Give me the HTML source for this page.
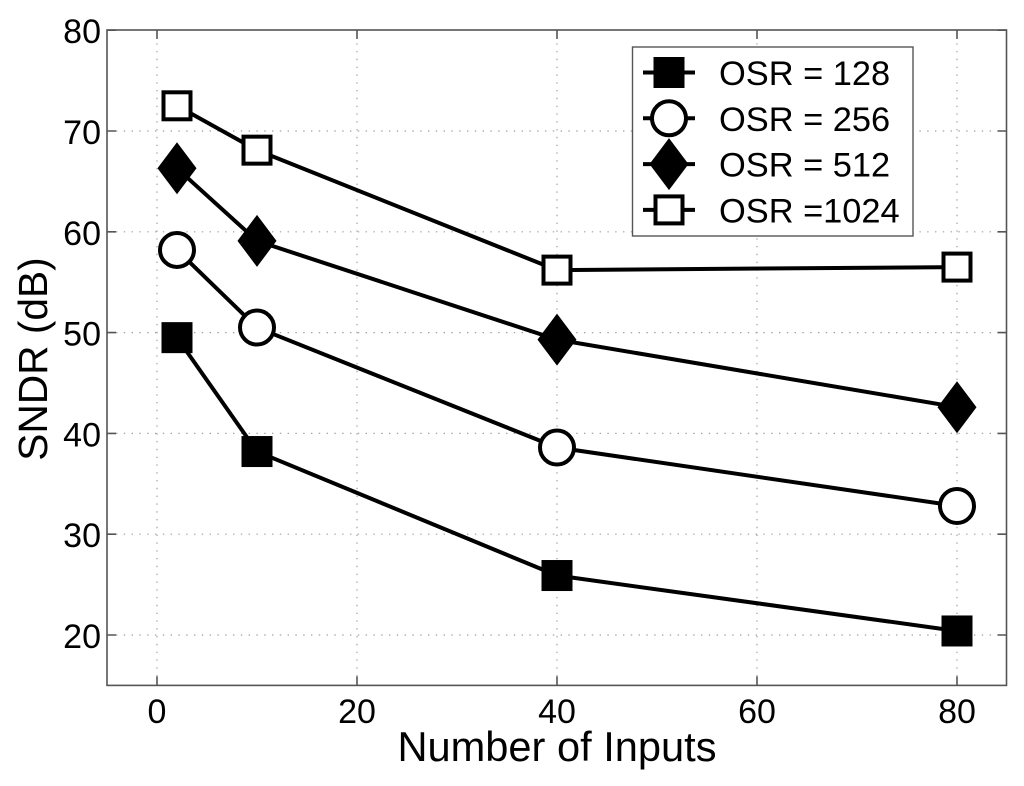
<!DOCTYPE html>
<html>
<head>
<meta charset="utf-8">
<title>SNDR vs Number of Inputs</title>
<style>
html,body{margin:0;padding:0;background:#fff;width:1024px;height:786px;overflow:hidden}
svg{display:block;font-family:"Liberation Sans",sans-serif}
text{fill:#000}
</style>
</head>
<body>
<svg id="chart" width="1024" height="786" viewBox="0 0 1024 786" xmlns="http://www.w3.org/2000/svg">
<rect x="0" y="0" width="1024" height="786" fill="#fff"/>
<text x="557" y="761" font-size="41.6" text-anchor="middle">Number of Inputs</text>
<text transform="translate(47,359) rotate(-90)" font-size="40.7" text-anchor="middle">SNDR (dB)</text>
</svg>
<script>
var inputs = [2, 10, 40, 80];
var osr128 = [49.5, 38.2, 25.9, 20.4];
var osr256 = [58.2, 50.5, 38.6, 32.8];
var osr512 = [66.3, 59.1, 49.3, 42.6];
var osr1024 = [72.5, 68.1, 56.2, 56.5];
var xTicks = [0, 20, 40, 60, 80];
var yTicks = [20, 30, 40, 50, 60, 70, 80];
var legendLabels = ["OSR = 128", "OSR = 256", "OSR = 512", "OSR =1024"];

var NS = "http://www.w3.org/2000/svg";
var svg = document.getElementById("chart");
var L = 107, R = 1007, T = 30, B = 685.4;
function sx(v) { return 157 + (v - 0) * 10; }
function sy(v) { return 635 - (v - 20) * 10.08; }
function mk(tag, attrs, parent) {
  var el = document.createElementNS(NS, tag);
  for (var k in attrs) el.setAttribute(k, attrs[k]);
  (parent || svg).appendChild(el);
  return el;
}

var gridGroup = mk("g", {});


xTicks.forEach(function (t) {
  var g = mk("line", { x1: sx(t), x2: sx(t), y1: B - 9, y2: T + 9, stroke: "#a0a0a0", "stroke-width": 1.2, "stroke-dasharray": "1.4 6.4" }, gridGroup);
  
  
});
yTicks.forEach(function (t) {
  if (t === 80) return;
  var g = mk("line", { x1: L + 9, x2: R - 9, y1: sy(t), y2: sy(t), stroke: "#a0a0a0", "stroke-width": 1.2, "stroke-dasharray": "1.4 6.4" }, gridGroup);
  
  
});

var frame = mk("rect", { x: L, y: T, width: R - L - 0.5, height: B - T, fill: "none", stroke: "#555", "stroke-width": 1.6 });



xTicks.forEach(function (t) {
  var a = mk("path", { d: "M" + sx(t) + " " + B + "V" + (B - 9) + "M" + sx(t) + " " + T + "V" + (T + 9), stroke: "#555", "stroke-width": 1.6, fill: "none" });
  
  
  var l = mk("text", { x: sx(t), y: 723, "font-size": 34, "text-anchor": "middle" });
  
  
  l.textContent = t;
});
yTicks.forEach(function (t) {
  var a = mk("path", { d: "M" + L + " " + sy(t) + "H" + (L + 9) + "M" + (R - 0.5) + " " + sy(t) + "H" + (R - 9.5), stroke: "#555", "stroke-width": 1.6, fill: "none" });
  
  
  var l = mk("text", { x: 101, y: sy(t) + 13, "font-size": 34, "text-anchor": "end" });
  
  
  l.textContent = t;
});

function marker(kind, cx, cy, parent) {
  if (kind === "filled-square") {
    return mk("rect", { x: cx - 15.5, y: cy - 15.5, width: 31, height: 31, fill: "#000" }, parent);
  }
  if (kind === "open-square") {
    return mk("rect", { x: cx - 13.5, y: cy - 13.5, width: 27, height: 27, fill: "#fff", stroke: "#000", "stroke-width": 4 }, parent);
  }
  if (kind === "circle") {
    return mk("circle", { cx: cx, cy: cy, r: 17, fill: "#fff", stroke: "#000", "stroke-width": 4 }, parent);
  }
  return mk("polygon", { points: [cx, cy - 26, cx + 19.5, cy, cx, cy + 26, cx - 19.5, cy].join(" "), fill: "#000" }, parent);
}

var series = [
  { name: "osr-128", values: osr128, kind: "filled-square" },
  { name: "osr-256", values: osr256, kind: "circle" },
  { name: "osr-512", values: osr512, kind: "diamond" },
  { name: "osr-1024", values: osr1024, kind: "open-square" }
];
series.forEach(function (s) {
  var g = mk("g", {});
  
  
  var pts = s.values.map(function (v, i) { return sx(inputs[i]) + "," + sy(v); }).join(" ");
  var line = mk("polyline", { points: pts, fill: "none", stroke: "#000", "stroke-width": 4, "stroke-linejoin": "round" }, g);
  
  
  s.values.forEach(function (v, i) {
    var m = marker(s.kind, sx(inputs[i]), sy(v), g);
    
    
  });
});

var legend = mk("g", {});


var legendBox = mk("rect", { x: 632.5, y: 47, width: 280.5, height: 189, fill: "#fff", stroke: "#555", "stroke-width": 1.4 }, legend);


series.forEach(function (s, i) {
  var y = 72.5 + i * 45.8;
  var entry = mk("g", {}, legend);
  
  
  var ln = mk("line", { x1: 643, x2: 695, y1: y, y2: y, stroke: "#000", "stroke-width": 4 }, entry);
  
  
  var m = marker(s.kind, 669, y, entry);
  
  
  var t = mk("text", { x: 719, y: y + 12.5, "font-size": 34.4 }, entry);
  
  
  t.textContent = legendLabels[i];
});
</script>
</body>
</html>
